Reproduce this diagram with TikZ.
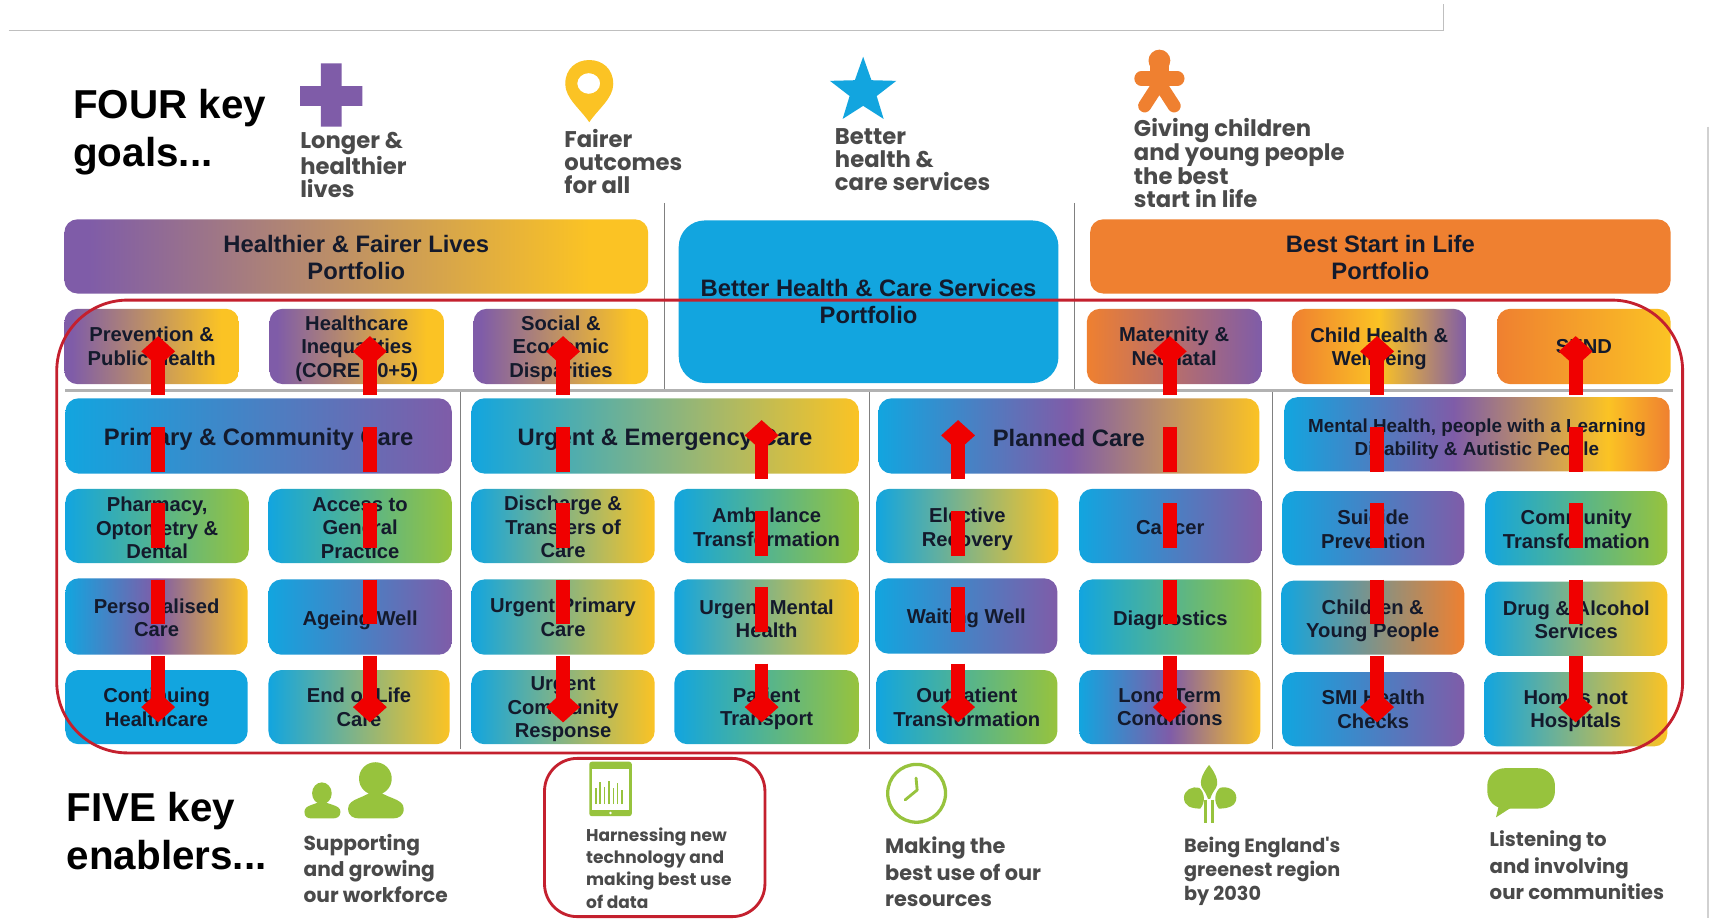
\documentclass[tikz,border=0pt]{standalone}
\usepackage{fontspec}
\setmainfont{Liberation Sans}
\newfontfamily\gf{Poppins}
\usetikzlibrary{arrows.meta}
\definecolor{cb}{HTML}{12A5DF}
\definecolor{cp}{HTML}{7F5CA8}
\definecolor{cy}{HTML}{FBC324}
\definecolor{cg}{HTML}{97C33D}
\definecolor{co}{HTML}{EF8030}
\definecolor{ink}{HTML}{141A2C}
\definecolor{gtxt}{HTML}{4A4A4A}
\definecolor{frame}{HTML}{C4202E}
\definecolor{redar}{HTML}{F00000}
\newcommand\shtwo[3]{\pgfdeclarehorizontalshading{#1}{100bp}{color(0bp)=(#2); color(25bp)=(#2); color(75bp)=(#3); color(100bp)=(#3)}}
\newcommand\shthree[4]{\pgfdeclarehorizontalshading{#1}{100bp}{color(0bp)=(#2); color(25bp)=(#2); color(50bp)=(#3); color(75bp)=(#4); color(100bp)=(#4)}}
\shtwo{sby}{cb}{cy}\shtwo{sbg}{cb}{cg}\shtwo{sbp}{cb}{cp}\shtwo{sbo}{cb}{co}\shtwo{sbb}{cb}{cb}\shtwo{soo}{co}{co}\shtwo{soy}{co}{cy}\shtwo{sop}{co}{cp}
\pgfdeclarehorizontalshading{spy}{100bp}{color(0bp)=(cp); color(27bp)=(cp); color(70bp)=(cy); color(100bp)=(cy)}
\shthree{sbpy}{cb}{cp}{cy}\shthree{soyp}{co}{cy}{cp}
\pgfdeclarehorizontalshading{sment}{100bp}{color(0bp)=(cb); color(25bp)=(cb); color(47bp)=(cp); color(67bp)=(cy); color(75bp)=(co); color(100bp)=(co)}
\tikzset{
 bx/.style={inner sep=0pt,align=center,text=ink,rounded corners=12pt,font=\bfseries\fontsize{18.5}{21.5}\selectfont},
 bigf/.style={font=\bfseries\fontsize{21.8}{25}\selectfont},
 lead/.style={inner sep=0pt,anchor=west,align=left,text=black,font=\bfseries\fontsize{37}{44}\selectfont},
 goal/.style={inner sep=0pt,anchor=west,align=left,text=gtxt,font=\gf\bfseries\fontsize{20.8}{21}\selectfont},
 enab/.style={inner sep=0pt,anchor=west,align=left,text=gtxt,font=\gf\bfseries\fontsize{18.5}{24}\selectfont},
 redup/.style={draw=redar,line width=12.5pt,dash pattern=on 41pt off 29pt,dash phase=6pt,
   {Diamond[length=28pt,width=31pt,fill=redar]}-{Diamond[length=28pt,width=31pt,fill=redar]}},
 seprule/.style={draw=black!50,line width=.9pt},
 grayrule/.style={draw=black!30,line width=2.2pt},
 edgeline/.style={draw=black!25,line width=1.4pt},
 redring/.style={draw=frame,line width=2.6pt,rounded corners=65pt},
 txtdown/.code={\gdef\tdown{#1}},
}
\newcounter{bxn}
\newcommand\bx[7][]{\stepcounter{bxn}\gdef\tdown{0}\pgfmathsetmacro\cxx{(#3+#5)/2}\pgfmathsetmacro\cyy{(#4+#6)/2}\pgfmathsetmacro\www{#5-#3}\pgfmathsetmacro\hhh{#6-#4}%
 \node[bx,shade,shading=#2,minimum width=\www pt,minimum height=\hhh pt,name=box\arabic{bxn},#1] at (\cxx,\cyy) {};%
 \node[bx,#1] (boxt\arabic{bxn}) at ([yshift=-\tdown pt]box\arabic{bxn}.center) {#7};}
\begin{document}
\begin{tikzpicture}[x=1pt,y=-1pt]
\useasboundingbox (0,0) rectangle (1568,841.3);
\fill[white] (0,0) rectangle (1568,841.3);
% frame remnants
\coordinate (fa) at (8,28);\coordinate (fb) at (1323,28);\coordinate (fc) at (1323,4);
\draw[edgeline] (fa) -- (fb) -- (fc);
\coordinate (fd) at (1565,116);\coordinate (fe) at (1565,841);
\draw[edgeline,draw=black!18] (fd) -- (fe);
% lead text
\node[lead] (four) at (67,121) {FOUR key\\goals...};
\node[lead] (five) at (61,762) {FIVE key\\enablers...};
% goal icons
\fill[cp] (294,58) rectangle (313,116) (275,79) rectangle (332,97);
\fill[cy,even odd rule] (518,77) .. controls (518,63) and (528,55) .. (540,55) .. controls (552,55) and (562,63) .. (562,77) .. controls (562,90) and (548,100) .. (540,112) .. controls (532,100) and (518,90) .. (518,77) -- cycle (539.5,76.5) ellipse [x radius=10.5,y radius=9.5];
\fill[cb] (791,52) -- (798.6,73.5) -- (821.4,74.1) -- (803.4,88) -- (809.8,109) -- (791,97) -- (772.2,109) -- (778.6,88) -- (760.6,74.1) -- (783.4,73.5) -- cycle;
\fill[co] (1062.5,55.5) ellipse [x radius=10,y radius=10];
\draw[co,line width=13pt,line cap=round] (1046,72) -- (1079,72);
\draw[co,line width=17pt,line cap=butt] (1062.5,58) -- (1062.5,84);
\draw[co,line width=12pt,line cap=round] (1060,80) -- (1049,97) (1065,80) -- (1076,97);
\node[goal] (g1) at (275,151) {Longer \&\\healthier\\lives};
\node[goal] (g2) at (517,148) {Fairer\\outcomes\\for all};
\node[goal] (g3) at (765,146) {Better\\health \&\\care services};
\node[goal] (g4) at (1039,149) {Giving children\\and young people\\the best\\start in life};
% separators
\coordinate (v1a) at (609,186);\coordinate (v1b) at (609,357);\draw[seprule] (v1a)--(v1b);
\coordinate (v2a) at (985,186);\coordinate (v2b) at (985,357);\draw[seprule] (v2a)--(v2b);
\coordinate (v3a) at (422,358);\coordinate (v3b) at (422,686);\draw[seprule] (v3a)--(v3b);
\coordinate (v4a) at (797,358);\coordinate (v4b) at (797,686);\draw[seprule] (v4a)--(v4b);
\coordinate (v5a) at (1166,358);\coordinate (v5b) at (1166,686);\draw[seprule] (v5a)--(v5b);
\coordinate (ha) at (60,358);\coordinate (hb) at (1533,358);\draw[grayrule] (ha)--(hb);
% portfolios
\bx[bigf,txtdown=1]{spy}{59}{201}{594}{269}{Healthier \& Fairer Lives\\Portfolio}
\bx[bigf,rounded corners=24pt]{sbb}{622}{202}{970}{351}{Better Health \& Care Services\\Portfolio}
\bx[bigf,txtdown=1]{soo}{999}{201}{1531}{269}{Best Start in Life\\Portfolio}
% second row
\bx{spy}{59}{283}{219}{352}{Prevention \&\\Public Health}
\bx[txtdown=2]{spy}{247}{283}{407}{352}{Healthcare\\Inequalities\\(CORE 20+5)}
\bx[txtdown=2]{spy}{434}{283}{594}{352}{Social \&\\Economic\\Disparities}
\bx{sop}{996}{283}{1156}{352}{Maternity \&\\Neonatal}
\bx[txtdown=2]{soyp}{1184}{283}{1344}{352}{Child Health \&\\Wellbeing}
\bx{soy}{1372}{283}{1531}{352}{SEND}
% care headers
\bx[bigf,txtdown=3]{sbp}{60}{365}{414}{434}{Primary \& Community Care}
\bx[bigf,txtdown=3]{sby}{432}{365}{787}{434}{Urgent \& Emergency Care}
\bx[bigf,txtdown=2]{sbpy}{805}{365}{1154}{434}{Planned Care}
\bx[font=\bfseries\fontsize{17.3}{21}\selectfont,txtdown=4]{sment}{1177}{364}{1530}{432}{Mental Health, people with a Learning\\Disability \& Autistic People}
% row B
\bx[txtdown=2]{sbg}{60}{448}{228}{516}{Pharmacy,\\Optometry \&\\Dental}
\bx[txtdown=2]{sbg}{246}{448}{414}{516}{Access to\\General\\Practice}
\bx[txtdown=1]{sby}{432}{448}{600}{516}{Discharge \&\\Transfers of\\Care}
\bx[txtdown=1]{sbg}{618}{448}{787}{516}{Ambulance\\Transformation}
\bx[txtdown=3]{sby}{803}{448}{970}{516}{Elective\\Recovery}
\bx[txtdown=1]{sbp}{989}{448}{1156}{516}{Cancer}
\bx[txtdown=1]{sbp}{1175}{450}{1342}{518}{Suicide\\Prevention}
\bx[txtdown=1]{sbg}{1361}{450}{1528}{518}{Community\\Transformation}
% row C
\bx[txtdown=1]{sbpy}{60}{530}{227}{600}{Personalised\\Care}
\bx[txtdown=3]{sbp}{246}{531}{414}{600}{Ageing Well}
\bx{sby}{432}{531}{600}{600}{Urgent Primary\\Care}
\bx[txtdown=1.5]{sby}{618}{531}{787}{600}{Urgent Mental\\Health}
\bx[txtdown=2]{sbp}{802}{530}{969}{599}{Waiting Well}
\bx[txtdown=3]{sbg}{989}{531}{1156}{600}{Diagnostics}
\bx[txtdown=3]{sbo}{1174}{532}{1342}{600}{Children \&\\Young People}
\bx[txtdown=1]{sby}{1361}{533}{1528}{601}{Drug \& Alcohol\\Services}
% row D
\bx{sbb}{60}{614}{227}{682}{Continuing\\Healthcare}
\bx{sby}{246}{614}{412}{682}{End of Life\\Care}
\bx[txtdown=2]{sby}{432}{614}{600}{682}{Urgent\\Community\\Response}
\bx[txtdown=1.5]{sbg}{618}{614}{787}{682}{Patient\\Transport}
\bx{sbg}{803}{614}{969}{682}{Outpatient\\Transformation}
\bx{sbpy}{989}{614}{1155}{682}{Long Term\\Conditions}
\bx{sbp}{1175}{616}{1342}{684}{SMI Health\\Checks}
\bx[txtdown=1.5]{sby}{1360}{616}{1528}{684}{Homes not\\Hospitals}
% enabler icons
\fill[cg] (295,727) ellipse [x radius=9,y radius=10];
\fill[cg] (279,744) .. controls (279,737) and (290,738) .. (295,733) .. controls (300,738) and (312,737) .. (312,744) .. controls (312,749) and (308,750) .. (305,750) -- (286,750) .. controls (282,750) and (279,749) .. (279,744) -- cycle;
\fill[cg] (344,713.5) ellipse [x radius=15,y radius=15];
\fill[cg] (319,741) .. controls (319,731) and (336,732) .. (344,722) .. controls (352,732) and (370,731) .. (370,741) .. controls (370,748) and (365,750) .. (360,750) -- (329,750) .. controls (324,750) and (319,748) .. (319,741) -- cycle;
\fill[cg,rounded corners=2.5pt] (540,698) rectangle (579,748);
\fill[white] (542.5,705) rectangle (576.5,742);
\fill[white] (559.5,745) circle (1.3);
\draw[cg,line width=1.3pt] (546,737) -- (546,722) (550,737) -- (550,717) (554,737) -- (554,721) (558,737) -- (558,716) (562,737) -- (562,722) (566,737) -- (566,718) (570,737) -- (570,724);
\draw[cg,line width=3pt] (840,727) ellipse [x radius=26.5,y radius=26.5];
\draw[cg,line width=2.6pt,line cap=round,line join=round] (839.5,713) -- (840.5,724) -- (829.5,733);
\fill[cg] (1108,701) .. controls (1101,710) and (1098,718) .. (1103,724) .. controls (1105,727) and (1106,729) .. (1107,732) -- (1109,732) .. controls (1110,729) and (1111,727) .. (1113,724) .. controls (1118,718) and (1115,710) .. (1108,701) -- cycle;
\fill[cg] (1085,731) .. controls (1085,724) and (1093,720) .. (1099,722) .. controls (1104,726) and (1105,735) .. (1100,741) .. controls (1092,741) and (1085,739) .. (1085,731) -- cycle;
\fill[cg] (1133,731) .. controls (1133,724) and (1125,720) .. (1118,722) .. controls (1113,726) and (1112,735) .. (1117,741) .. controls (1125,741) and (1133,739) .. (1133,731) -- cycle;
\draw[cg,line width=2.4pt] (1105,733) -- (1105,754) (1111,733) -- (1111,754);
\fill[cg,rounded corners=16pt] (1363,704) rectangle (1425,741);
\fill[cg] (1374,736) -- (1371,749) -- (1388,738) -- cycle;
\node[enab] (e1) at (278,796) {Supporting\\and growing\\our workforce};
\node[enab,font=\gf\bfseries\fontsize{15.6}{20.3}\selectfont] (e2) at (537,795.5) {Harnessing new\\technology and\\making best use\\of data};
\node[enab,font=\gf\bfseries\fontsize{19.1}{24}\selectfont] (e3) at (811,799) {Making the\\best use of our\\resources};
\node[enab,font=\gf\bfseries\fontsize{17.6}{22}\selectfont] (e4) at (1085,798.5) {Being England's\\greenest region\\by 2030};
\node[enab,font=\gf\bfseries\fontsize{18.1}{24}\selectfont] (e5) at (1365,793) {Listening to\\and involving\\our communities};
% red rings
\coordinate (ra) at (52,275);\coordinate (rb) at (1542,690);
\draw[redring] (ra) rectangle (rb);
\coordinate (sa) at (499,695);\coordinate (sb) at (701,840);
\draw[redring,rounded corners=30pt] (sa) rectangle (sb);
% red arrows
\foreach \n/\x/\t in {a/145/308,b/339/308,c/516/308,d/698/385,e/878/385,f/1072/308,g/1262/308,h/1444/308}{
 \coordinate (\n t) at (\x,\t);\coordinate (\n b) at (\x,662);
 \draw[redup] (\n t) -- (\n b);
}
\end{tikzpicture}
\end{document}
